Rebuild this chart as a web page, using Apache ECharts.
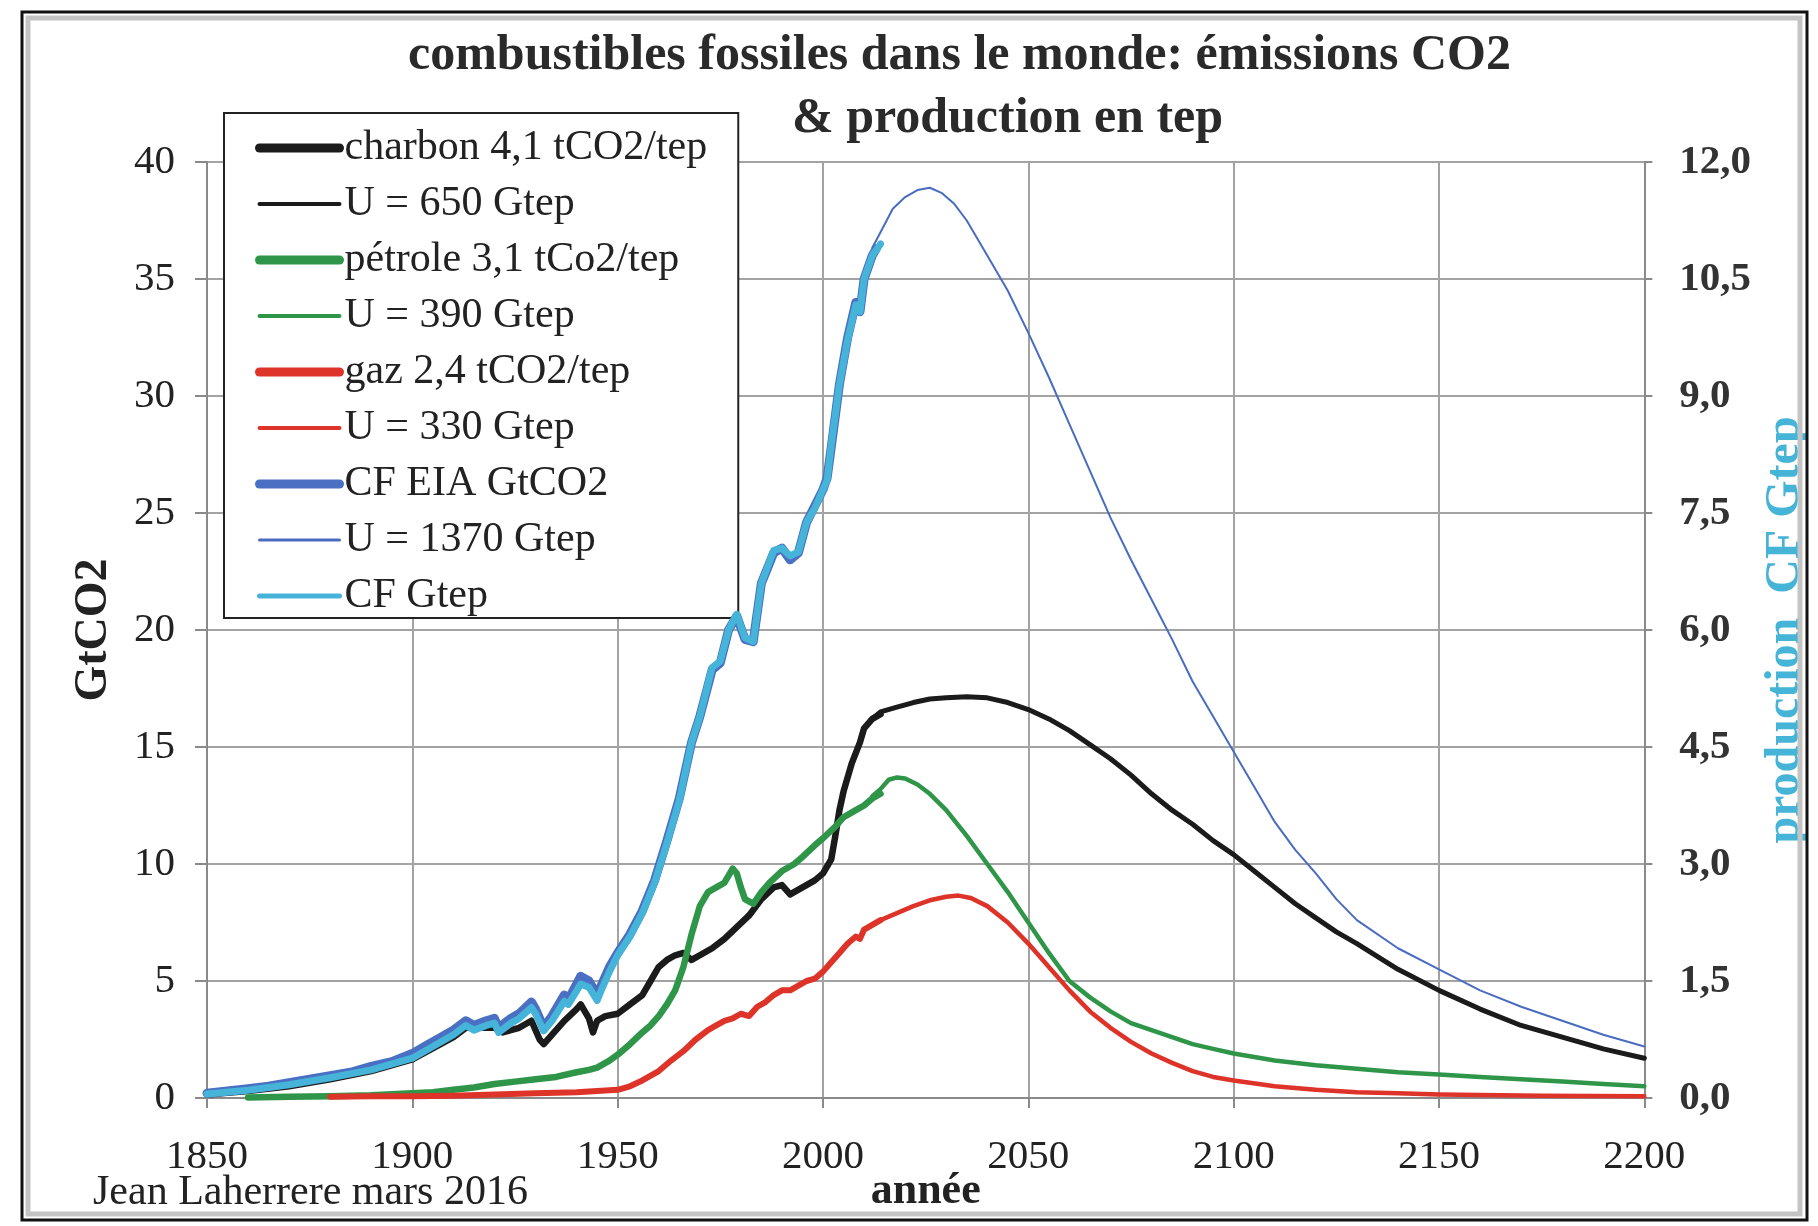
<!DOCTYPE html>
<html>
<head>
<meta charset="utf-8">
<script src="https://cdn.jsdelivr.net/npm/echarts@6/dist/echarts.min.js"></script>
<style>
html,body{margin:0;padding:0;background:#fff;}
#chart{width:1818px;height:1226px;}
</style>
</head>
<body>
<div id="chart"></div>
<script>
// ---------- DATA ----------
const titleLine1 = "combustibles fossiles dans le monde: émissions CO2";
const titleLine2 = "& production en tep";
const credit = "Jean Laherrere mars 2016";
const xAxisName = "année";
const leftAxisName = "GtCO2";
const rightAxisName = "production  CF Gtep";

const legendNames = [
  "charbon 4,1 tCO2/tep", "U = 650 Gtep",
  "pétrole 3,1 tCo2/tep", "U = 390 Gtep",
  "gaz 2,4 tCO2/tep", "U = 330 Gtep",
  "CF EIA GtCO2", "U = 1370 Gtep", "CF Gtep"
];

// coal, historical (GtCO2)
const coalHistYears = [1850,1860,1870,1880,1890,1900,1910,1913,1918,1920,1922,1924,1926,1929,1931,1932,1935,1937,1940,1941,1943,1944,1945,1947,1950,1953,1956,1958,1960,1962,1964,1966,1968,1970,1973,1976,1979,1982,1985,1988,1990,1992,1995,1998,2000,2002,2003,2004,2005,2007,2009,2010,2012,2014];
const coalHistValues = [0.15,0.3,0.5,0.8,1.15,1.65,2.6,3.0,3.0,3.0,2.8,2.9,3.0,3.3,2.5,2.3,2.9,3.3,3.8,4.0,3.4,2.8,3.3,3.5,3.6,4.0,4.4,5.0,5.6,5.9,6.1,6.2,5.9,6.1,6.4,6.8,7.3,7.8,8.5,9.0,9.1,8.7,9.0,9.3,9.6,10.2,11.2,12.3,13.1,14.3,15.2,15.8,16.2,16.4];
// coal, model U = 650 Gtep (GtCO2)
const coalModelYears = [2012,2014,2018,2022,2026,2030,2035,2040,2045,2050,2055,2060,2065,2070,2075,2080,2085,2090,2095,2100,2105,2110,2115,2120,2125,2130,2140,2150,2160,2170,2180,2190,2200];
const coalModelValues = [16.2,16.5,16.7,16.9,17.05,17.1,17.15,17.1,16.9,16.6,16.2,15.7,15.1,14.5,13.8,13.0,12.3,11.7,11.0,10.4,9.7,9.0,8.3,7.7,7.1,6.6,5.5,4.6,3.8,3.1,2.6,2.1,1.7];

// oil, historical (GtCO2)
const oilHistYears = [1860,1870,1880,1890,1900,1905,1910,1915,1920,1925,1930,1935,1940,1943,1945,1948,1950,1953,1956,1958,1960,1962,1964,1966,1968,1970,1972,1974,1976,1978,1979,1980,1981,1983,1985,1987,1990,1993,1995,1998,2000,2003,2005,2008,2010,2012,2014];
const oilHistValues = [0.02,0.05,0.08,0.12,0.2,0.25,0.35,0.45,0.6,0.7,0.8,0.9,1.1,1.2,1.3,1.6,1.85,2.3,2.8,3.1,3.5,4.0,4.6,5.6,7.0,8.2,8.8,9.0,9.2,9.8,9.6,9.0,8.5,8.3,8.8,9.2,9.7,10.0,10.3,10.8,11.1,11.6,12.0,12.3,12.5,12.8,13.0];
// oil, model U = 390 Gtep (GtCO2)
const oilModelYears = [2012,2014,2016,2018,2020,2023,2026,2030,2035,2040,2045,2050,2055,2060,2065,2070,2075,2080,2085,2090,2095,2100,2110,2120,2130,2140,2150,2160,2170,2180,2190,2200];
const oilModelValues = [12.9,13.2,13.6,13.7,13.65,13.4,13.0,12.3,11.2,10.0,8.8,7.5,6.2,5.0,4.3,3.7,3.2,2.9,2.6,2.3,2.1,1.9,1.6,1.4,1.25,1.1,1.0,0.9,0.8,0.7,0.6,0.5];

// gas, historical (GtCO2)
const gasHistYears = [1880,1890,1900,1910,1920,1930,1940,1945,1950,1953,1956,1960,1963,1966,1969,1972,1974,1976,1978,1980,1982,1984,1986,1988,1990,1992,1994,1996,1998,2000,2002,2004,2006,2008,2009,2010,2012,2014];
const gasHistValues = [0.05,0.07,0.08,0.1,0.15,0.2,0.25,0.3,0.35,0.5,0.75,1.15,1.6,2.0,2.5,2.9,3.1,3.3,3.4,3.6,3.5,3.9,4.1,4.4,4.6,4.6,4.8,5.0,5.1,5.4,5.8,6.2,6.6,6.9,6.8,7.2,7.4,7.6];
// gas, model U = 330 Gtep (GtCO2)
const gasModelYears = [2012,2014,2018,2022,2026,2030,2033,2036,2040,2045,2050,2055,2060,2065,2070,2075,2080,2085,2090,2095,2100,2110,2120,2130,2140,2150,2175,2200];
const gasModelValues = [7.4,7.6,7.9,8.2,8.45,8.6,8.65,8.55,8.2,7.5,6.6,5.6,4.6,3.7,3.0,2.4,1.9,1.5,1.15,0.9,0.75,0.5,0.35,0.25,0.2,0.15,0.1,0.08];

// total fossil CO2, EIA (GtCO2)
const totalCO2Years = [1850,1855,1860,1865,1870,1875,1880,1885,1890,1895,1900,1903,1907,1910,1913,1915,1918,1920,1921,1924,1926,1929,1930,1932,1934,1937,1938,1941,1943,1945,1946,1948,1950,1953,1956,1959,1962,1965,1968,1970,1973,1975,1977,1979,1981,1983,1985,1988,1990,1992,1994,1996,1998,2000,2001,2002,2004,2006,2008,2009,2010,2012,2013];
const totalCO2Values = [0.2,0.3,0.4,0.5,0.65,0.8,0.95,1.1,1.35,1.55,1.9,2.2,2.6,2.9,3.3,3.1,3.3,3.4,3.0,3.4,3.6,4.1,3.8,3.0,3.5,4.4,4.2,5.2,5.0,4.4,4.8,5.6,6.2,7.0,8.0,9.3,11.0,12.8,15.2,16.3,18.3,18.6,20.0,20.6,19.6,19.5,22.0,23.3,23.5,23.0,23.3,24.6,25.3,26.0,26.5,27.8,30.5,32.5,34.0,33.6,35.0,36.0,36.3];

// fossil fuel production, historical (Gtep, right axis)
const prodYears = [1850,1860,1870,1880,1890,1900,1905,1910,1913,1915,1918,1920,1921,1924,1926,1929,1930,1932,1934,1937,1938,1941,1943,1945,1946,1948,1950,1953,1956,1959,1962,1965,1968,1970,1973,1975,1977,1979,1981,1983,1985,1988,1990,1992,1994,1996,1998,2000,2001,2002,2004,2006,2008,2009,2010,2012,2014];
const prodValues = [0.05,0.1,0.17,0.26,0.36,0.51,0.66,0.81,0.93,0.87,0.93,0.96,0.84,0.96,1.02,1.16,1.08,0.86,0.99,1.24,1.2,1.46,1.42,1.25,1.38,1.62,1.83,2.07,2.37,2.76,3.27,3.81,4.56,4.89,5.52,5.6,6.0,6.2,5.9,5.85,6.6,7.02,7.05,6.95,7.0,7.38,7.56,7.8,7.92,8.37,9.15,9.72,10.17,10.08,10.5,10.8,10.95];
// production model U = 1370 Gtep (Gtep, right axis)
const prodModelYears = [2012,2014,2017,2020,2023,2026,2029,2032,2035,2040,2045,2050,2055,2060,2065,2070,2075,2080,2085,2090,2095,2100,2105,2110,2115,2120,2125,2130,2140,2150,2160,2170,2180,2190,2200];
const prodModelValues = [10.9,11.1,11.4,11.55,11.64,11.67,11.6,11.46,11.25,10.8,10.35,9.81,9.24,8.64,8.04,7.44,6.9,6.39,5.88,5.34,4.89,4.44,3.99,3.54,3.18,2.88,2.55,2.28,1.92,1.65,1.38,1.17,0.99,0.81,0.66];

// ---------- CHART ----------
function pairs(xs, ys) { return xs.map((x, i) => [x, ys[i]]); }
const serif = "'Liberation Serif', 'Times New Roman', serif";

const C = {
  black: '#1b1b1b', green: '#2f9649', red: '#de3329',
  blue: '#4a6fc3', blueThin: '#4a6cc0', cyan: '#46b4d9'
};

function lineSeries(name, data, color, width, yIndex, z) {
  return {
    type: 'line', name: name, data: data, yAxisIndex: yIndex || 0,
    showSymbol: false, symbol: 'none', smooth: false, z: z,
    lineStyle: { color: color, width: width, cap: 'round', join: 'round' },
    itemStyle: { color: color },
    emphasis: { disabled: true }, silent: true
  };
}

const chart = echarts.init(document.getElementById('chart'), null, { renderer: 'canvas' });

const legendWidths = [9, 4, 9, 4, 9, 4, 9, 3, 5];
const legendColors = [C.black, C.black, C.green, C.green, C.red, C.red, C.blue, C.blueThin, C.cyan];

const option = {
  animation: false,
  backgroundColor: '#ffffff',
  title: [
    { text: titleLine1, left: 408, top: 31, padding: 0,
      textStyle: { fontFamily: serif, fontSize: 50, fontWeight: 'bold', color: '#2a2a2a' } },
    { text: titleLine2, left: 792, top: 94, padding: 0,
      textStyle: { fontFamily: serif, fontSize: 50, fontWeight: 'bold', color: '#2a2a2a' } },
    { text: credit, left: 93, top: 1172, padding: 0, z: 20,
      textStyle: { fontFamily: serif, fontSize: 42, fontWeight: 'normal', color: '#222' } }
  ],
  legend: {
    orient: 'vertical', left: 224, top: 113,
    padding: [13, 31, 0, 31],
    itemWidth: 80, itemHeight: 14, itemGap: 12,
    backgroundColor: '#ffffff', borderColor: '#222', borderWidth: 2, borderRadius: 0,
    selectedMode: false,
    textStyle: { fontFamily: serif, fontSize: 42, color: '#222', lineHeight: 44 },
    data: legendNames.map((n, i) => ({
      name: n,
      itemStyle: { opacity: 0, borderWidth: 0 },
      lineStyle: { width: legendWidths[i], color: legendColors[i], cap: 'round', opacity: 1 }
    }))
  },
  grid: { left: 207, right: 157, top: 162, bottom: 128, containLabel: false },
  xAxis: {
    type: 'value', min: 1850, max: 2200, interval: 50,
    name: xAxisName, nameLocation: 'middle', nameGap: 72, nameMoveOverlap: false,
    nameTextStyle: { fontFamily: serif, fontSize: 44, fontWeight: 'bold', color: '#222' },
    axisLine: { show: true, onZero: false, lineStyle: { color: '#8a8a8a', width: 2 } },
    axisTick: { show: true, length: 10, lineStyle: { color: '#8a8a8a', width: 2 } },
    splitLine: { show: true, lineStyle: { color: '#a3a3a3', width: 2 } },
    axisLabel: { fontFamily: serif, fontSize: 41, color: '#222', margin: 39,
      formatter: v => String(v) }
  },
  yAxis: [
    {
      type: 'value', min: 0, max: 40, interval: 5, position: 'left',
      name: leftAxisName, nameLocation: 'middle', nameGap: 90, nameRotate: 90,
      nameTextStyle: { fontFamily: serif, fontSize: 46, fontWeight: 'bold', color: '#222' },
      axisLine: { show: true, lineStyle: { color: '#8a8a8a', width: 2 } },
      axisTick: { show: true, length: 12, lineStyle: { color: '#8a8a8a', width: 2 } },
      splitLine: { show: true, lineStyle: { color: '#a3a3a3', width: 2 } },
      axisLabel: { fontFamily: serif, fontSize: 41, color: '#222', margin: 32 }
    },
    {
      type: 'value', min: 0, max: 12, interval: 1.5, position: 'right',
      name: rightAxisName, nameLocation: 'middle', nameGap: 86, nameRotate: 90,
      nameTextStyle: { fontFamily: serif, fontSize: 48, fontWeight: 'bold', color: '#46b4d6' },
      axisLine: { show: true, lineStyle: { color: '#8a8a8a', width: 2 } },
      axisTick: { show: true, length: 8, lineStyle: { color: '#8a8a8a', width: 2 } },
      splitLine: { show: false },
      axisLabel: { fontFamily: serif, fontSize: 41, fontWeight: 'bold', color: '#333', margin: 35,
        formatter: v => v.toFixed(1).replace('.', ',') }
    }
  ],
  series: [
    lineSeries(legendNames[0], pairs(coalHistYears, coalHistValues), C.black, 6.5, 0, 2),
    lineSeries(legendNames[1], pairs(coalModelYears, coalModelValues), C.black, 5, 0, 2),
    lineSeries(legendNames[2], pairs(oilHistYears, oilHistValues), C.green, 6.5, 0, 3),
    lineSeries(legendNames[3], pairs(oilModelYears, oilModelValues), C.green, 4.5, 0, 3),
    lineSeries(legendNames[4], pairs(gasHistYears, gasHistValues), C.red, 6, 0, 4),
    lineSeries(legendNames[5], pairs(gasModelYears, gasModelValues), C.red, 4.5, 0, 4),
    lineSeries(legendNames[6], pairs(totalCO2Years, totalCO2Values), C.blue, 9, 0, 5),
    lineSeries(legendNames[7], pairs(prodModelYears, prodModelValues), C.blueThin, 2, 1, 5),
    lineSeries(legendNames[8], pairs(prodYears, prodValues), C.cyan, 7, 1, 6)
  ],
  graphic: [
    { type: 'rect', silent: true, z: 1,
      shape: { x: 28, y: 18, width: 1772, height: 1196 },
      style: { fill: 'none', stroke: '#c4c4c4', lineWidth: 5 } },
    { type: 'rect', silent: true, z: 2,
      shape: { x: 22, y: 12, width: 1785, height: 1208 },
      style: { fill: 'none', stroke: '#111', lineWidth: 3 } }
  ]
};

chart.setOption(option);
</script>
</body>
</html>
